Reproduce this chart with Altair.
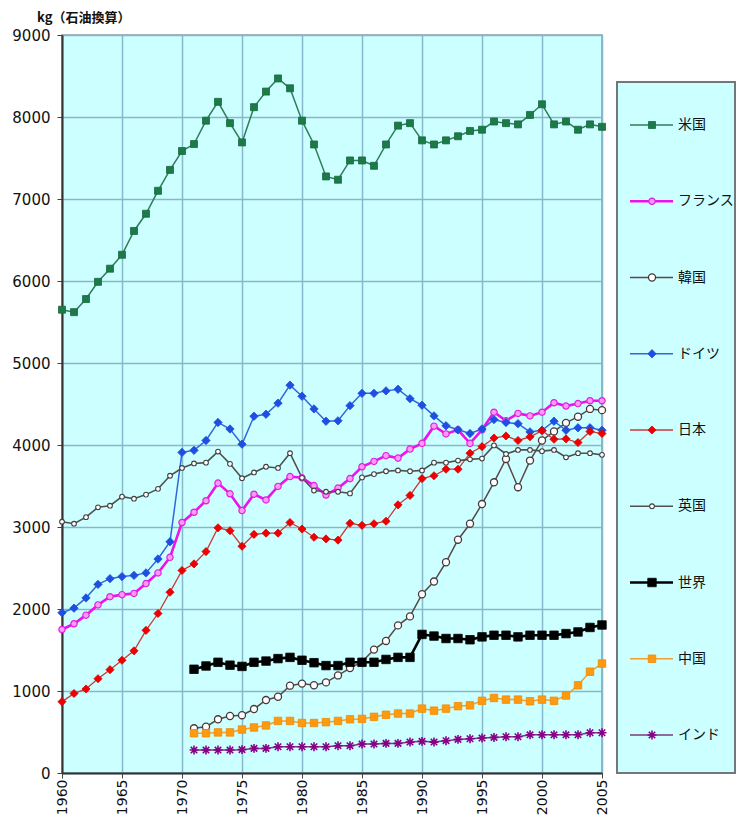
import altair as alt
import pandas as pd

# Per-capita primary energy consumption, kg of oil equivalent
years_full = list(range(1960, 2006))
years_late = list(range(1971, 2006))

usa = [5650, 5620, 5780, 5990, 6150, 6320, 6610, 6820, 7100, 7355,
       7585, 7670, 7955, 8185, 7925, 7690, 8120, 8310, 8470, 8350,
       7955, 7665, 7275, 7235, 7470, 7470, 7405, 7665, 7895, 7925,
       7715, 7665, 7715, 7765, 7830, 7845, 7945, 7925, 7910, 8025,
       8155, 7910, 7945, 7845, 7910, 7880]
france = [1750, 1820, 1925, 2050, 2150, 2175, 2190, 2310, 2440, 2630,
          3055, 3180, 3320, 3535, 3405, 3200, 3400, 3330, 3495, 3615,
          3600, 3505, 3390, 3475, 3590, 3735, 3800, 3870, 3840, 3950,
          4020, 4230, 4135, 4185, 4020, 4185, 4400, 4295, 4385, 4355,
          4400, 4515, 4475, 4505, 4540, 4540]
germany = [1955, 2010, 2135, 2300, 2370, 2395, 2410, 2440, 2610, 2820,
           3910, 3935, 4055, 4275, 4195, 4010, 4350, 4375, 4510, 4730,
           4595, 4440, 4290, 4295, 4480, 4630, 4630, 4660, 4680, 4565,
           4485, 4355, 4235, 4185, 4140, 4195, 4310, 4275, 4260, 4160,
           4180, 4290, 4180, 4210, 4210, 4180]
japan = [870, 970, 1025, 1150, 1260, 1375, 1490, 1740, 1945, 2205,
         2470, 2550, 2700, 2990, 2955, 2765, 2910, 2925, 2925, 3055,
         2975, 2875, 2855, 2840, 3045, 3020, 3040, 3070, 3270, 3385,
         3590, 3625, 3705, 3705, 3900, 3980, 4085, 4110, 4055, 4100,
         4175, 4070, 4075, 4030, 4165, 4140]
uk = [3065, 3040, 3120, 3240, 3260, 3370, 3345, 3395, 3465, 3625,
      3720, 3775, 3785, 3920, 3770, 3595, 3665, 3735, 3720, 3900,
      3600, 3445, 3430, 3430, 3410, 3605, 3645, 3680, 3690, 3680,
      3690, 3785, 3785, 3810, 3825, 3835, 3995, 3890, 3940, 3940,
      3925, 3940, 3850, 3900, 3900, 3880]
korea = [545, 565, 655, 695, 705, 780, 890, 930, 1065, 1090,
         1070, 1105, 1190, 1280, 1355, 1505, 1610, 1800, 1910, 2180,
         2335, 2570, 2845, 3040, 3280, 3545, 3830, 3485, 3810, 4055,
         4165, 4270, 4345, 4440, 4425]
world = [1265, 1305, 1350, 1315, 1300, 1350, 1365, 1395, 1410, 1375,
         1345, 1310, 1310, 1350, 1350, 1350, 1385, 1410, 1410, 1690,
         1670, 1640, 1640, 1625, 1660, 1680, 1680, 1660, 1680, 1680,
         1680, 1700, 1720, 1775, 1805]
china = [485, 485, 495, 495, 530, 555, 580, 635, 635, 610,
         610, 620, 635, 655, 660, 685, 710, 725, 725, 785,
         760, 785, 815, 825, 880, 915, 895, 895, 875, 895,
         880, 945, 1070, 1235, 1335]
india = [280, 280, 280, 280, 285, 300, 300, 320, 320, 320,
         320, 320, 333, 333, 353, 353, 361, 361, 377, 386,
         377, 394, 410, 418, 426, 434, 442, 442, 466, 466,
         466, 466, 466, 491, 491]

series_names = ["米国", "フランス", "韓国", "ドイツ", "日本", "英国", "世界", "中国", "インド"]
series_years = [years_full, years_full, years_late, years_full, years_full,
                years_full, years_late, years_late, years_late]
series_values = [usa, france, korea, germany, japan, uk, world, china, india]

rows = []
for name, ys, vs in zip(series_names, series_years, series_values):
    for y, v in zip(ys, vs):
        rows.append({"series": name, "year": y, "value": v})
df = pd.DataFrame(rows)
legend_df = pd.DataFrame({"series": series_names, "order": list(range(len(series_names)))})

ASTERISK = "M-1,0L1,0M0,-1L0,1M-0.72,-0.72L0.72,0.72M-0.72,0.72L0.72,-0.72"

STYLE = {
    "米国":   dict(line="#2E7D58", lw=1.5, shape="square", size=49, fill="#1A7A48", stroke="#1A6A40", sw=0.8),
    "フランス": dict(line="#EE11EE", lw=2.6, shape="circle", size=40, fill="#FF99F5", stroke="#DD22DD", sw=1.2),
    "韓国":   dict(line="#5A4848", lw=1.5, shape="circle", size=50, fill="#FFFFFF", stroke="#4A3838", sw=1.3),
    "ドイツ":  dict(line="#3366DD", lw=1.5, shape="diamond", size=70, fill="#1E4FE0", stroke="#1E4FE0", sw=0.8),
    "日本":   dict(line="#C83A3A", lw=1.3, shape="diamond", size=66, fill="#EE0000", stroke="#DD0000", sw=0.8),
    "英国":   dict(line="#505050", lw=1.6, shape="circle", size=22, fill="#FFFFFF", stroke="#404040", sw=1.1),
    "世界":   dict(line="#000000", lw=2.6, shape="square", size=72, fill="#000000", stroke="#000000", sw=0.8),
    "中国":   dict(line="#F0A030", lw=1.5, shape="square", size=56, fill="#FF9910", stroke="#F08A00", sw=0.8),
    "インド":  dict(line="#7A3A7A", lw=1.5, shape=ASTERISK, size=80, fill="transparent", stroke="#880088", sw=1.6),
}

AXIS_FONT = "DejaVu Sans"
CJK_FONT = "Noto Sans CJK JP"
BG = "#CCFFFF"

x_enc = alt.X(
    "year:Q",
    scale=alt.Scale(domain=[1960, 2005], nice=False, zero=False),
    axis=alt.Axis(values=list(range(1960, 2006, 5)), format="d", labelAngle=270,
                  title=None, labelFont=AXIS_FONT, labelFontSize=14, labelColor="#111111",
                  labelPadding=1, tickSize=5, tickColor="#404040", domainColor="#333333",
                  domainWidth=2, gridColor="#86B8CC", gridWidth=1.5),
)
y_enc = alt.Y(
    "value:Q",
    scale=alt.Scale(domain=[0, 9000], nice=False),
    axis=alt.Axis(values=list(range(0, 9001, 1000)), format="d", title=None,
                  labelFont=AXIS_FONT, labelFontSize=15, labelColor="#111111",
                  labelPadding=7, tickSize=5, tickColor="#404040", domainColor="#333333",
                  domainWidth=2, gridColor="#86B8CC", gridWidth=1.5),
)


def point_mark(name):
    s = STYLE[name]
    return dict(shape=s["shape"], size=s["size"], fill=s["fill"], stroke=s["stroke"],
                strokeWidth=s["sw"], opacity=1, filled=True)


layers = []
for name in series_names:
    s = STYLE[name]
    base = alt.Chart(df).transform_filter(alt.datum.series == name)
    layers.append(base.mark_line(color=s["line"], strokeWidth=s["lw"]).encode(x=x_enc, y=y_enc))
for name in series_names:
    base = alt.Chart(df).transform_filter(alt.datum.series == name)
    layers.append(base.mark_point(**point_mark(name)).encode(x=x_enc, y=y_enc))

unit_title = alt.Chart(alt.Data(values=[{"t": "kg（石油換算）"}])).mark_text(
    font=CJK_FONT, fontSize=13, fontWeight="bold", align="left", baseline="middle", color="#111111"
).encode(text="t:N", x=alt.value(-25), y=alt.value(-17))
layers.append(unit_title)

main = alt.layer(*layers).properties(
    width=540, height=738,
    view=alt.ViewBackground(fill=BG, stroke="#8A9A9A", strokeWidth=1.5),
)

# Legend panel: a boxed list of line+marker samples with labels
ly = alt.Y("order:Q", scale=alt.Scale(domain=[0, 8], range=[90, 700]), axis=None)
leg_layers = [
    alt.Chart(alt.Data(values=[{}])).mark_rect(fill=BG, stroke="#707878", strokeWidth=2).encode(
        x=alt.value(1), x2=alt.value(119), y=alt.value(47), y2=alt.value(738))
]
for name in series_names:
    s = STYLE[name]
    b = alt.Chart(legend_df).transform_filter(alt.datum.series == name)
    leg_layers.append(b.mark_rule(color=s["line"], strokeWidth=s["lw"]).encode(
        y=ly, x=alt.value(14), x2=alt.value(57)))
    leg_layers.append(b.mark_point(**point_mark(name)).encode(y=ly, x=alt.value(36)))
leg_layers.append(alt.Chart(legend_df).mark_text(
    font=CJK_FONT, fontSize=14, align="left", baseline="middle", color="#111111"
).encode(y=ly, x=alt.value(62), text="series:N"))

legend_panel = alt.layer(*leg_layers).properties(
    width=119, height=738,
    view=alt.ViewBackground(fill="transparent", stroke="transparent"),
)

chart = alt.hconcat(main, legend_panel, spacing=14, bounds="flush").properties(
    padding={"left": 11, "top": 11, "right": 1, "bottom": 0},
    background="#FFFFFF",
)

chart.save("out.html", embed_options={"renderer": "svg", "actions": False})
